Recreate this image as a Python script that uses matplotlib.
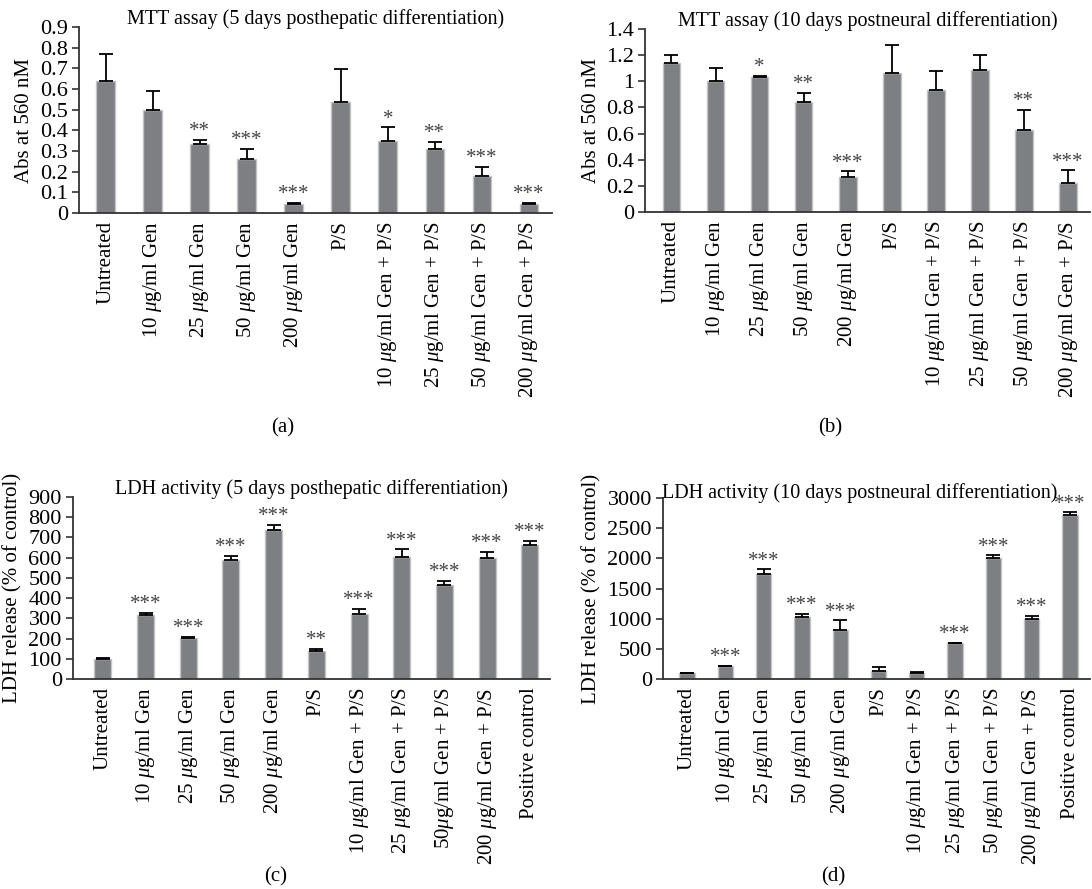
import matplotlib
matplotlib.use("Agg")
import matplotlib.pyplot as plt

plt.rcParams['font.family'] = ['Liberation Serif', 'DejaVu Serif']
plt.rcParams['mathtext.fontset'] = 'custom'
plt.rcParams['mathtext.rm'] = 'Liberation Serif'
plt.rcParams['mathtext.it'] = 'Liberation Serif:italic'

MU = r'$\mu$'

# ---- data ----
mtt_labels = ['Untreated', f'10 {MU}g/ml Gen', f'25 {MU}g/ml Gen', f'50 {MU}g/ml Gen',
              f'200 {MU}g/ml Gen', 'P/S', f'10 {MU}g/ml Gen + P/S', f'25 {MU}g/ml Gen + P/S',
              f'50 {MU}g/ml Gen + P/S', f'200 {MU}g/ml Gen + P/S']

mtt5_vals = [0.64, 0.50, 0.335, 0.26, 0.045, 0.535, 0.35, 0.31, 0.18, 0.045]
mtt5_err = [0.13, 0.09, 0.02, 0.05, 0.005, 0.16, 0.065, 0.035, 0.045, 0.003]
mtt5_stars = ['', '', '**', '***', '***', '', '*', '**', '***', '***']
mtt5_ticks = [0, 0.1, 0.2, 0.3, 0.4, 0.5, 0.6, 0.7, 0.8, 0.9]
mtt5_ticklabels = ['0', '0.1', '0.2', '0.3', '0.4', '0.5', '0.6', '0.7', '0.8', '0.9']

mtt10_vals = [1.14, 1.0, 1.03, 0.84, 0.27, 1.065, 0.935, 1.09, 0.63, 0.225]
mtt10_err = [0.06, 0.10, 0.01, 0.07, 0.04, 0.21, 0.14, 0.11, 0.15, 0.095]
mtt10_stars = ['', '', '*', '**', '***', '', '', '', '**', '***']
mtt10_ticks = [0, 0.2, 0.4, 0.6, 0.8, 1.0, 1.2, 1.4]
mtt10_ticklabels = ['0', '0.2', '0.4', '0.6', '0.8', '1', '1.2', '1.4']

ldh5_labels = ['Untreated', f'10 {MU}g/ml Gen', f'25 {MU}g/ml Gen', f'50 {MU}g/ml Gen',
               f'200 {MU}g/ml Gen', 'P/S', f'10 {MU}g/ml Gen + P/S', f'25 {MU}g/ml Gen + P/S',
               f'50{MU}g/ml Gen + P/S', f'200 {MU}g/ml Gen + P/S', 'Positive control']
ldh5_vals = [100, 317, 203, 590, 735, 137, 322, 603, 467, 600, 663]
ldh5_err = [3, 10, 5, 20, 27, 12, 25, 38, 18, 28, 20]
ldh5_stars = ['', '***', '***', '***', '***', '**', '***', '***', '***', '***', '***']
ldh5_ticks = [0, 100, 200, 300, 400, 500, 600, 700, 800, 900]

ldh10_labels = ['Untreated', f'10 {MU}g/ml Gen', f'25 {MU}g/ml Gen', f'50 {MU}g/ml Gen',
                f'200 {MU}g/ml Gen', 'P/S', f'10 {MU}g/ml Gen + P/S', f'25 {MU}g/ml Gen + P/S',
                f'50 {MU}g/ml Gen + P/S', f'200 {MU}g/ml Gen + P/S', 'Positive control']
ldh10_vals = [100, 210, 1740, 1020, 810, 130, 100, 590, 2000, 1000, 2720]
ldh10_err = [8, 10, 80, 60, 160, 75, 10, 8, 50, 50, 40]
ldh10_stars = ['', '***', '***', '***', '***', '', '', '***', '***', '***', '***']
ldh10_ticks = [0, 500, 1000, 1500, 2000, 2500, 3000]

BAR = '#7e7f83'
EDGE = '#c4c4c4'
FS = 15


def draw_panel(ax, labels, vals, errs, stars, ticks, ticklabels, title, ylabel, xlim,
               title_y=1.0, title_x=0.5, title_pad=2):
    x = list(range(len(vals)))
    ax.bar(x, vals, width=0.4, color=BAR, edgecolor=EDGE, linewidth=1.0, zorder=2)
    ax.errorbar(x, vals, yerr=[[0] * len(errs), errs], fmt='none', ecolor='black',
                elinewidth=1.3, capsize=5, capthick=1.3, zorder=3)
    for i, s in enumerate(stars):
        if s:
            ax.annotate(s, (i, vals[i] + errs[i]), xytext=(0, -1), textcoords='offset points',
                        ha='center', va='bottom', fontsize=15, color='#444444')
    ax.set_xlim(*xlim)
    ax.set_ylim(ticks[0], ticks[-1])
    ax.set_yticks(ticks)
    ax.set_yticklabels(ticklabels, fontsize=16)
    ax.set_xticks(x)
    ax.set_xticklabels(labels, rotation=90, fontsize=FS)
    ax.tick_params(axis='x', length=0, pad=6)
    ax.tick_params(axis='y', length=5, width=1.2, direction='out', pad=3, color='#333333')
    for sp in ['top', 'right']:
        ax.spines[sp].set_visible(False)
    for sp in ['left', 'bottom']:
        ax.spines[sp].set_linewidth(1.3)
        ax.spines[sp].set_color('#333333')
    ax.set_ylabel(ylabel, fontsize=FS, labelpad=4)
    ax.set_title(title, fontsize=14.5, pad=title_pad, y=title_y, x=title_x)


fig = plt.figure(figsize=(10.92, 8.89), dpi=100)

ax_a = fig.add_axes([0.0723, 0.7604, 0.4332, 0.2092])
draw_panel(ax_a, mtt_labels, mtt5_vals, mtt5_err, mtt5_stars, mtt5_ticks, mtt5_ticklabels,
           'MTT assay (5 days posthepatic differentiation)', 'Abs at 560 nM', (-0.57, 9.49))

ax_b = fig.add_axes([0.5907, 0.7615, 0.4075, 0.2059])
draw_panel(ax_b, mtt_labels, mtt10_vals, mtt10_err, mtt10_stars, mtt10_ticks, mtt10_ticklabels,
           'MTT assay (10 days postneural differentiation)', 'Abs at 560 nM', (-0.6, 9.5))

ax_c = fig.add_axes([0.0668, 0.2362, 0.4368, 0.2047])
draw_panel(ax_c, ldh5_labels, ldh5_vals, ldh5_err, ldh5_stars, ldh5_ticks,
           [str(t) for t in ldh5_ticks],
           'LDH activity (5 days posthepatic differentiation)', 'LDH release (% of control)',
           (-0.7, 10.47))

ax_d = fig.add_axes([0.6071, 0.2362, 0.3910, 0.2036])
draw_panel(ax_d, ldh10_labels, ldh10_vals, ldh10_err, ldh10_stars, ldh10_ticks,
           [str(t) for t in ldh10_ticks],
           'LDH activity (10 days postneural differentiation)', 'LDH release (% of control)',
           (-0.63, 10.52), title_y=1.0, title_x=0.46, title_pad=0)

fig.text(283 / 1092, 1 - 428 / 889, '(a)', fontsize=FS, ha='center', va='center')
fig.text(830 / 1092, 1 - 428 / 889, '(b)', fontsize=FS, ha='center', va='center')
fig.text(276 / 1092, 1 - 877 / 889, '(c)', fontsize=FS, ha='center', va='center')
fig.text(833 / 1092, 1 - 877 / 889, '(d)', fontsize=FS, ha='center', va='center')

fig.savefig('out.png', dpi=100)
